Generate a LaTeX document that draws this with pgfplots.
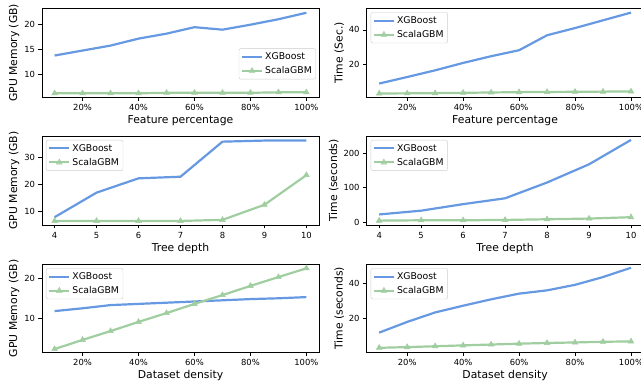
\documentclass[border=0pt]{standalone}
\usepackage{fontspec}
\setmainfont{DejaVu Sans}
\usepackage{pgfplots}
\pgfplotsset{compat=1.18}
\definecolor{xgb}{RGB}{102,153,226}
\definecolor{sgbm}{RGB}{160,206,160}
\pgfplotsset{
  myax/.style={
    scale only axis, width=277pt, height=89pt, anchor=south west,
    axis line style={line width=0.8pt},
    tick align=outside, tick pos=left,
    major tick length=3.5pt,
    every tick/.style={black, line width=0.8pt},
    /pgf/number format/assume math mode=true,
    tick label style={font=\fontsize{8.4}{9}\selectfont},
    label style={font=\fontsize{10.8}{12}\selectfont},
    xlabel style={yshift=2pt},
    ylabel style={yshift=-2pt},
    legend cell align=left,
    legend image code/.code={
      \draw[mark repeat=2,mark phase=2] plot coordinates {(0pt,0pt) (10pt,0pt) (20pt,0pt)};},
    legend style={font=\fontsize{9.3}{10.5}\selectfont, draw=black!20, rounded corners=2pt,
      fill=white, fill opacity=0.8, text opacity=1, inner xsep=2pt, inner ysep=2pt,
      row sep=1.5pt},
  },
  pct/.style={xmin=5.5, xmax=104.5, xtick={20,40,60,80,100},
    xticklabels={20\%,40\%,60\%,80\%,100\%}},
  dep/.style={xmin=3.7, xmax=10.3, xtick={4,5,6,7,8,9,10}},
  ul/.style={legend style={at={(0,1)}, anchor=north west, xshift=4pt, yshift=-4pt}},
  xg/.style={color=xgb, line width=2.2pt, no marks},
  sg/.style={color=sgbm, line width=2.2pt, mark=triangle*, mark size=3.3pt,
    mark options={fill=sgbm, draw=sgbm, line width=0.5pt}},
}
\begin{document}
\begin{tikzpicture}
\useasboundingbox (0,0) rectangle (641pt,387pt);
\clip (0,0) rectangle (641pt,387pt);
% top-left
\begin{axis}[myax, pct, at={(42pt,289.7pt)}, ymin=5.4, ymax=23.3, ytick={10,15,20},
  xlabel={Feature percentage}, ylabel={GPU Memory (GB)},
  legend style={at={(1,0)}, anchor=south east, xshift=-3pt, yshift=18pt}]
\addplot[xg] coordinates {(10,13.8)(20,14.8)(30,15.8)(40,17.2)(50,18.2)(60,19.5)(70,19.0)(80,20.0)(90,21.1)(100,22.4)};
\addlegendentry{XGBoost}
\addplot[sg] coordinates {(10,6.2)(20,6.2)(30,6.2)(40,6.2)(50,6.3)(60,6.3)(70,6.3)(80,6.3)(90,6.4)(100,6.4)};
\addlegendentry{ScalaGBM}
\end{axis}
% top-right
\begin{axis}[myax, pct, ul, at={(366.6pt,289.7pt)}, ymin=0.8, ymax=52.6, ytick={20,40},
  xlabel={Feature percentage}, ylabel={Time (Sec.)}]
\addplot[xg] coordinates {(10,8.8)(20,12.6)(30,16.5)(40,20.8)(50,24.7)(60,28.2)(70,36.9)(80,41.1)(90,45.6)(100,50.1)};
\addlegendentry{XGBoost}
\addplot[sg] coordinates {(10,3.0)(20,3.1)(30,3.2)(40,3.4)(50,3.6)(60,3.8)(70,3.9)(80,4.0)(90,4.1)(100,4.2)};
\addlegendentry{ScalaGBM}
\end{axis}
% middle-left
\begin{axis}[myax, dep, ul, at={(42pt,162pt)}, ymin=4.9, ymax=37.9, ytick={10,20,30},
  xlabel={Tree depth}, ylabel={GPU Memory (GB)}]
\addplot[xg] coordinates {(4,7.8)(5,16.9)(6,22.2)(7,22.8)(8,35.8)(9,36.2)(10,36.2)};
\addlegendentry{XGBoost}
\addplot[sg] coordinates {(4,6.4)(5,6.4)(6,6.4)(7,6.4)(8,6.8)(9,12.4)(10,23.4)};
\addlegendentry{ScalaGBM}
\end{axis}
% middle-right
\begin{axis}[myax, dep, ul, at={(366.6pt,162pt)}, ymin=-8.7, ymax=250.4, ytick={0,100,200},
  xlabel={Tree depth}, ylabel={Time (seconds)}]
\addplot[xg] coordinates {(4,22)(5,33)(6,52)(7,69)(8,115)(9,168)(10,239)};
\addlegendentry{XGBoost}
\addplot[sg] coordinates {(4,4)(5,5)(6,5)(7,6)(8,8)(9,10)(10,14)};
\addlegendentry{ScalaGBM}
\end{axis}
% bottom-left
\begin{axis}[myax, pct, ul, at={(42pt,34.7pt)}, height=88pt, ymin=1.5, ymax=23.5, ytick={10,20},
  xlabel={Dataset density}, ylabel={GPU Memory (GB)}]
\addplot[xg] coordinates {(10,11.8)(20,12.5)(30,13.3)(40,13.6)(50,13.9)(60,14.2)(70,14.5)(80,14.8)(90,15.0)(100,15.3)};
\addlegendentry{XGBoost}
\addplot[sg] coordinates {(10,2.3)(20,4.6)(30,6.8)(40,9.1)(50,11.3)(60,13.6)(70,15.8)(80,18.1)(90,20.3)(100,22.5)};
\addlegendentry{ScalaGBM}
\end{axis}
% bottom-right
\begin{axis}[myax, pct, ul, at={(366.6pt,34.7pt)}, height=88pt, ymin=0.3, ymax=51.3, ytick={20,40},
  xlabel={Dataset density}, ylabel={Time (seconds)}]
\addplot[xg] coordinates {(10,11.7)(20,17.9)(30,23.4)(40,27.3)(50,31.0)(60,34.3)(70,36.2)(80,39.4)(90,43.9)(100,49.3)};
\addlegendentry{XGBoost}
\addplot[sg] coordinates {(10,2.9)(20,3.3)(30,3.8)(40,4.3)(50,4.8)(60,5.3)(70,5.7)(80,6.0)(90,6.4)(100,6.6)};
\addlegendentry{ScalaGBM}
\end{axis}
\end{tikzpicture}
\end{document}
